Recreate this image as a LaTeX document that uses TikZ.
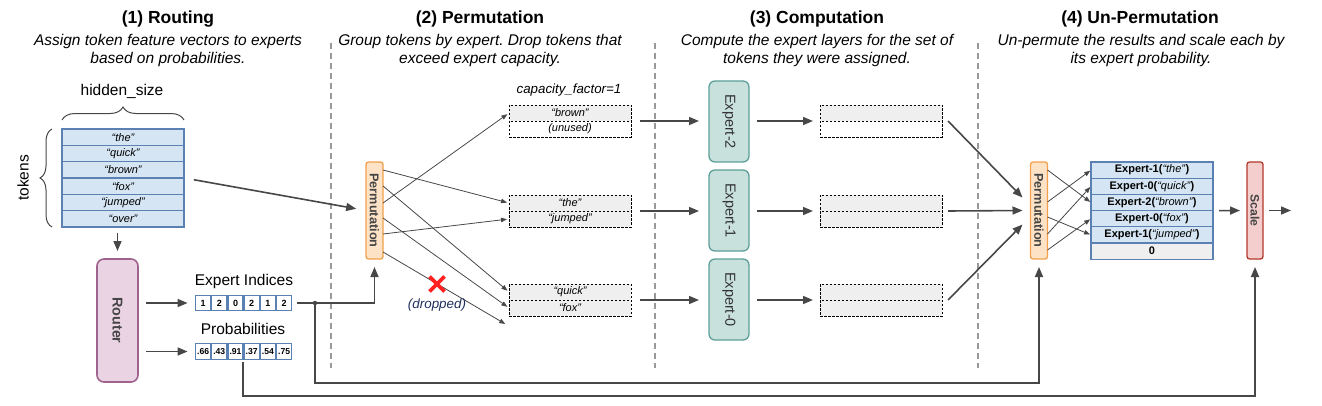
\documentclass[tikz,border=0pt]{standalone}
\usepackage{fontspec}
\setmainfont{Liberation Sans}
\usetikzlibrary{arrows.meta,positioning,decorations.pathreplacing,shapes.misc}

\definecolor{tokfill}{HTML}{D5E5F3}
\definecolor{tokline}{HTML}{5B80B2}
\definecolor{routfill}{HTML}{EAD3E2}
\definecolor{routline}{HTML}{A0628F}
\definecolor{permfill}{HTML}{FDE2C6}
\definecolor{permline}{HTML}{F2A04A}
\definecolor{expfill}{HTML}{C8E1DD}
\definecolor{expline}{HTML}{5E9F99}
\definecolor{scalefill}{HTML}{F4CDCD}
\definecolor{scaleline}{HTML}{B3392C}
\definecolor{buffill}{HTML}{EFEFEF}
\definecolor{wire}{HTML}{474747}
\definecolor{boxtext}{HTML}{454545}
\definecolor{exptext}{HTML}{333333}
\definecolor{dropblue}{HTML}{1F2F5F}
\definecolor{xred}{HTML}{FF2222}

\frenchspacing
\begin{document}
\begin{tikzpicture}[x=1pt,y=-1pt,
   every node/.style={inner sep=0pt,outer sep=0pt},
   title/.style={font=\fontsize{17.5}{20}\selectfont\bfseries},
   caption/.style={font=\fontsize{15.5}{18}\selectfont\itshape,align=center},
   lbl/.style={font=\fontsize{15.5}{18}\selectfont},
   row/.style={draw=tokline,fill=tokfill,line width=1.3pt,minimum width=122pt,minimum height=16.3pt,font=\fontsize{11}{12}\selectfont\itshape},
   res/.style={row,minimum height=16.2pt,font=\fontsize{11}{12}\selectfont\bfseries},
   cell/.style={draw=tokline,line width=1.1pt,minimum width=15pt,minimum height=15.5pt,font=\fontsize{9}{10}\selectfont\bfseries},
   buf/.style={draw=black,dash pattern=on 2.5pt off 1.5pt,line width=0.9pt,fill=buffill,minimum width=122pt,minimum height=16pt,font=\fontsize{11}{12}\selectfont\itshape},
   router/.style={draw=routline,fill=routfill,line width=1.6pt,rounded corners=7pt,minimum width=41pt,minimum height=123pt,text=boxtext,font=\fontsize{14.3}{16}\selectfont\bfseries},
   perm/.style={draw=permline,fill=permfill,line width=1.3pt,rounded corners=2.5pt,minimum width=17pt,minimum height=97pt,text=boxtext,font=\fontsize{12.7}{14}\selectfont\bfseries},
   scalebox/.style={perm,draw=scaleline,fill=scalefill,minimum width=16pt,font=\fontsize{12.2}{14}\selectfont\bfseries},
   expert/.style={draw=expline,fill=expfill,line width=1.3pt,rounded corners=6pt,minimum width=40pt,minimum height=81pt,text=exptext,font=\fontsize{14.5}{16}\selectfont},
   arr/.style={wire,line width=1.6pt,-{Triangle[length=10pt,width=8pt]}},
   thinarr/.style={wire,line width=0.8pt,-{Triangle[length=6pt,width=4.5pt]}},
   divider/.style={draw=gray!80,line width=1.1pt,dash pattern=on 6pt off 4pt}]

   \useasboundingbox (0,0) rectangle (1322,406);

   \node[title] (t_1) at (168,19) {(1) Routing};
   \node[caption] (c_1) at (168,50) {Assign token feature vectors to experts\\based on probabilities.};
   \node[title] (t_2) at (480,19) {(2) Permutation};
   \node[caption] (c_2) at (480,50) {Group tokens by expert. Drop tokens that\\exceed expert capacity.};
   \node[title] (t_3) at (817,19) {(3) Computation};
   \node[caption] (c_3) at (817,50) {Compute the expert layers for the set of\\tokens they were assigned.};
   \node[title] (t_4) at (1140,19) {(4) Un-Permutation};
   \node[caption] (c_4) at (1141,50) {Un-permute the results and scale each by\\its expert probability.};

   \foreach \x in {331,655,978}
      \draw[divider] (\x,43) -- (\x,368);

   \foreach \w [count=\i] in {the,quick,brown,fox,jumped,over}
      \node[row] (tok_\i) at (123,{129+16.33*(\i-0.5)}) {“\w”};
   \node[lbl] (hsize) at (122,91) {hidden\_size};
   \node[lbl,rotate=90] (tokl) at (23,178) {tokens};
   \draw[decorate,decoration={brace,amplitude=13pt},wire,line width=1pt]
      ([yshift=9pt]tok_1.north west) -- ([yshift=9pt]tok_1.north east);
   \draw[decorate,decoration={brace,amplitude=12pt},wire,line width=1pt]
      ([xshift=-10pt]tok_6.south west) -- ([xshift=-10pt]tok_1.north west);

   \node[router] (router) at (117.5,320.5) {\rotatebox{-90}{Router}};
   \draw[arr,shorten <=6pt,shorten >=8pt] (router.north |- tok_6.south) -- (router.north);

   \foreach \v [count=\i] in {1,2,0,2,1,2}
      \node[cell] (idx_\i) at ({195+16.2*(\i-0.5)},303) {\v};
   \foreach \v [count=\i] in {.66,.43,.91,.37,.54,.75}
      \node[cell,font=\fontsize{8.6}{10}\selectfont\bfseries] (prob_\i) at ({195+16.2*(\i-0.5)},351.5) {\v};
   \node[lbl] (idx_lbl) at (244,281) {Expert Indices};
   \node[lbl] (prob_lbl) at (243,329) {Probabilities};
   \draw[arr,shorten <=8pt,shorten >=8pt] (router.east |- idx_1) -- (idx_1.west);
   \draw[arr,shorten <=8pt,shorten >=8pt] (router.east |- prob_1) -- (prob_1.west);

   \node[perm] (perm_a) at (374.5,210.5) {\rotatebox{-90}{Permutation}};
   \draw[arr,shorten <=10pt,shorten >=10pt] (tok_3.south east) -- (perm_a.west);
   \coordinate (split) at (315,303);
   \draw[arr,shorten <=5pt,shorten >=8pt] (idx_6.east) -| (perm_a.south);

   \node[font=\fontsize{13.3}{15}\selectfont\itshape] (cap) at (569,90) {capacity\_factor=1};
   \node[buf] (in_2a) at (570,113) {“brown”};
   \node[buf,fill=white] (in_2b) at (570,129) {(unused)};
   \node[buf] (in_1a) at (570,203) {“the”};
   \node[buf] (in_1b) at (570,219) {“jumped”};
   \node[buf] (in_0a) at (570,292) {“quick”};
   \node[buf] (in_0b) at (570,308) {“fox”};
   \coordinate (drop_end) at (507,325);

   \path[thinarr,shorten >=2pt]
    ([yshift=40.5pt]perm_a.east)  edge (in_1a.west)
    ([yshift=24.5pt]perm_a.east)  edge (in_0a.west)
    ([yshift=7.5pt]perm_a.east)   edge (in_2a.west)
    ([yshift=-7.5pt]perm_a.east)  edge (in_0b.west)
    ([yshift=-23.5pt]perm_a.east) edge (in_1b.west)
    ([yshift=-41.5pt]perm_a.east) edge (drop_end);
   \node[cross out,draw=xred,line width=3.8pt,minimum size=15pt] (x_mark) at (437,284) {};
   \node[font=\fontsize{13.4}{15}\selectfont\itshape,text=dropblue] (drop_lbl) at (437,305) {(dropped)};

   \node[expert] (exp_2) at (729,121.5) {\rotatebox{-90}{Expert-2}};
   \node[expert] (exp_1) at (729,210.5) {\rotatebox{-90}{Expert-1}};
   \node[expert] (exp_0) at (729,299.5) {\rotatebox{-90}{Expert-0}};

   \node[buf] (out_2a) at (881,113) {};
   \node[buf,fill=white] (out_2b) at (881,129) {};
   \node[buf] (out_1a) at (881,203) {};
   \node[buf] (out_1b) at (881,219) {};
   \node[buf] (out_0a) at (881,292) {};
   \node[buf] (out_0b) at (881,308) {};

   \foreach \e in {0,1,2} {
      \draw[arr,shorten <=9pt,shorten >=10pt] (in_\e a.south east) -- (exp_\e.west |- in_\e a.south east);
      \draw[arr,shorten <=8pt,shorten >=7pt] (exp_\e.east |- out_\e a.south west) -- (out_\e a.south west);
   }

   \node[perm] (perm_b) at (1039,210.5) {\rotatebox{-90}{Permutation}};
   \draw[arr] ([xshift=6pt]out_2a.south east) -- ([xshift=-8pt,yshift=13pt]perm_b.west);
   \draw[arr] ([xshift=6pt]out_1a.south east) -- ([xshift=-8pt]perm_b.west);
   \draw[arr] ([xshift=6pt]out_0a.south east) -- ([xshift=-8pt,yshift=-14pt]perm_b.west);

   \node[res] (res_1) at (1152,170.1) {Expert-1(\textit{\mdseries “the”})};
   \node[res] (res_2) at (1152,186.3) {Expert-0(\textit{\mdseries “quick”})};
   \node[res] (res_3) at (1152,202.5) {Expert-2(\textit{\mdseries “brown”})};
   \node[res] (res_4) at (1152,218.7) {Expert-0(\textit{\mdseries “fox”})};
   \node[res] (res_5) at (1152,234.9) {Expert-1(\textit{\mdseries “jumped”})};
   \node[res,fill=buffill] (res_6) at (1152,251.1) {0};

   \path[thinarr,shorten >=1pt]
    ([yshift=40.5pt]perm_b.east)  edge (res_3.west)
    ([yshift=8.5pt]perm_b.east)   edge (res_1.west)
    ([yshift=-6.5pt]perm_b.east)  edge (res_5.west)
    ([yshift=-23.5pt]perm_b.east) edge (res_2.west)
    ([yshift=-39.5pt]perm_b.east) edge (res_4.west);

   \node[scalebox] (scale) at (1255,210.5) {\rotatebox{-90}{Scale}};
   \coordinate (out_end) at (1291,210.5);
   \draw[arr,shorten <=6pt,shorten >=7pt] (res_3.south east) -- (scale.west);
   \draw[arr,shorten <=6pt] (scale.east) -- (out_end);

   \fill[wire] (split) circle (2.2pt);
   \draw[arr,shorten >=8pt] (split) -- ++(0,80) -| (perm_b.south);
   \draw[arr,shorten >=8pt] ([yshift=-3pt]prob_3.south east) -- ++(0,34) -| (scale.south);
\end{tikzpicture}
\end{document}
